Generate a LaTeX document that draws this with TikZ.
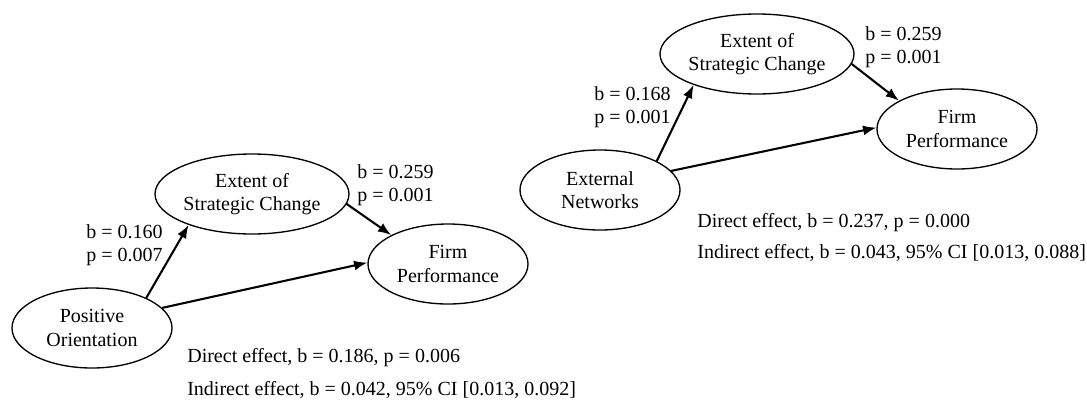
\documentclass[tikz,border=0pt]{standalone}
\usepackage{fontspec}
\setmainfont{Liberation Serif}
\usetikzlibrary{shapes}
\usetikzlibrary{arrows.meta}
\usetikzlibrary{positioning}

\begin{document}
\begin{tikzpicture}
	[x=0.6pt, y=-0.6pt,
	font=\fontsize{12}{14}\selectfont]

\def\EllWidth{96pt}
\def\EllHeight{48pt}

% Styles
\tikzstyle{construct} =
	[ellipse, draw, line width=0.8pt, inner sep=0pt,
	minimum width=\EllWidth, minimum height=\EllHeight, align=center]

\tikzstyle{coef text} =
	[align=left, anchor=west, inner sep=0pt]

\tikzstyle{effect text} =
	[anchor=west, inner sep=0pt]

\tikzstyle{path arrow} =
	[-{Latex[length=8pt, width=6pt]}, line width=1.25pt]

\useasboundingbox (0,0) rectangle (1087,408);

% Left model

\node (PosOrient) at (92,328) [construct] {Positive\\Orientation};
\node (StratChangeA) at (252,194) [construct] {Extent of\\Strategic Change};
\node (FirmPerfA) at (448,264) [construct] {Firm\\Performance};

\node (CoefA1) at (86,245) [coef text] {b = 0.160\\p = 0.007};
\node (CoefA2) at (357,185) [coef text] {b = 0.259\\p = 0.001};

\node (DirectA) at (187,358) [effect text] {Direct effect, b = 0.186, p = 0.006};
\node (IndirectA) at (187,390) [effect text] {Indirect effect, b = 0.042, 95\% CI [0.013, 0.092]};

% Right model

\node (ExtNet) at (600,190) [construct] {External\\Networks};
\node (StratChangeB) at (757,54) [construct] {Extent of\\Strategic Change};
\node (FirmPerfB) at (957,129) [construct] {Firm\\Performance};

\node (CoefB1) at (594,107) [coef text] {b = 0.168\\p = 0.001};
\node (CoefB2) at (865,47) [coef text] {b = 0.259\\p = 0.001};

\node (DirectB) at (697,223) [effect text] {Direct effect, b = 0.237, p = 0.000};
\node (IndirectB) at (697,253) [effect text] {Indirect effect, b = 0.043, 95\% CI [0.013, 0.088]};

% Edges

\path[path arrow]
	(PosOrient.29) edge (StratChangeA.206)
	(StratChangeA.-6) edge (FirmPerfA.153)
	(PosOrient.16) edge (FirmPerfA.179);

\path[path arrow]
	(ExtNet.27) edge (StratChangeB.206)
	(StratChangeB.-6) edge (FirmPerfB.154)
	(ExtNet.15) edge (FirmPerfB.179);

\end{tikzpicture}
\end{document}
